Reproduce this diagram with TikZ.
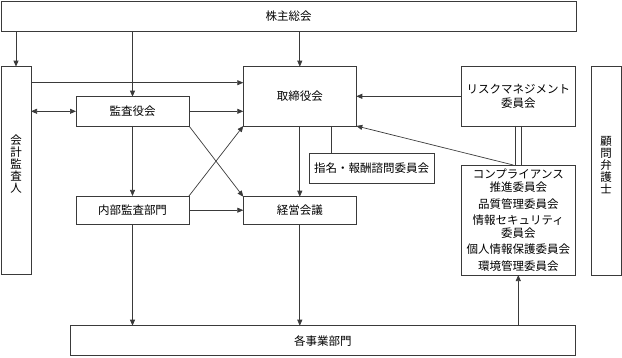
\documentclass[tikz,border=0pt]{standalone}
\usepackage{fontspec}
\setmainfont{Noto Sans CJK JP}
\usetikzlibrary{arrows.meta}
\definecolor{lc}{HTML}{3A3A3A}
\begin{document}
\begin{tikzpicture}[x=1pt,y=-1pt,
  box/.style={draw=lc, line width=0.8pt, inner sep=0pt, outer sep=0pt, align=center,
    font=\fontsize{11.5}{13.3}\selectfont},
  vtext/.style={align=center, inner sep=0pt, font=\fontsize{11.5}{12}\selectfont, yshift=6pt},
  conn/.style={draw=lc, line width=0.7pt},
  arr/.style={conn, -{Triangle[length=6pt,width=5pt]}},
  darr/.style={conn, {Triangle[length=6pt,width=5pt]}-{Triangle[length=6pt,width=5pt]}}]
\useasboundingbox (0,0) rectangle (622,357);
% boxes
\node[box, minimum width=575pt, minimum height=30pt] (kabu) at (288.5,16) {株主総会};
\node[box, minimum width=30pt, minimum height=207.3pt,
  label={[vtext]center:{会\\計\\監\\査\\人}}] (kaikei) at (16,170.3) {};
\node[box, minimum width=113pt, minimum height=29.3pt] (kansa) at (132.5,111.3) {監査役会};
\node[box, minimum width=113pt, minimum height=59.3pt] (tori) at (299.8,96.3) {取締役会};
\node[box, minimum width=113.3pt, minimum height=59.3pt] (risk) at (518.3,96.3) {リスクマネジメント\\委員会};
\node[box, minimum width=30pt, minimum height=208.3pt,
  label={[vtext]center:{顧\\問\\弁\\護\\士}}] (komon) at (606,170.8) {};
\node[box, minimum width=113pt, minimum height=28.5pt] (naibu) at (132.5,210.2) {内部監査部門};
\node[box, minimum width=113pt, minimum height=27.8pt] (keiei) at (299.8,210.6) {経営会議};
\node[box, minimum width=125pt, minimum height=30pt] (shimei) at (371.5,168.3) {指名・報酬諮問委員会};
\node[box, minimum width=113.3pt, minimum height=110pt] (comp) at (518.3,220)
  {コンプライアンス\\推進委員会\\[3pt]品質管理委員会\\[3pt]情報セキュリティ\\委員会\\[3pt]個人情報保護委員会\\[3pt]環境管理委員会};
\node[box, minimum width=504.3pt, minimum height=30pt] (jigyo) at (322.8,340.7) {各事業部門};
% helper coordinates
\coordinate (y1) at (0,82.7);
\coordinate (s1) at (331.7,0);
\coordinate (d1) at (515.7,0);
\coordinate (d2) at (521.7,0);
\coordinate (c1) at (513.3,0);
% connectors
\draw[arr] (kaikei.north |- kabu.south) -- (kaikei.north);
\draw[arr] (kansa.north |- kabu.south) -- (kansa.north);
\draw[arr] (tori.north |- kabu.south) -- (tori.north);
\draw[arr] (kaikei.east |- y1) -- (tori.west |- y1);
\draw[darr] (kaikei.east |- kansa.west) -- (kansa.west);
\draw[arr] (kansa.east) -- (tori.west |- kansa.east);
\draw[arr] (kansa.south) -- (naibu.north);
\draw[arr] (kansa.south east) -- (keiei.north west);
\draw[arr] (naibu.north east) -- (tori.south west);
\draw[arr] (naibu.east) -- (keiei.west |- naibu.east);
\draw[arr] (naibu.south) -- (jigyo.north -| naibu.south);
\draw[arr] (tori.south) -- (keiei.north);
\draw[arr] (keiei.south) -- (jigyo.north -| keiei.south);
\draw[conn] (tori.south -| s1) -- (shimei.north -| s1);
\draw[arr] (risk.west) -- (tori.east |- risk.west);
\draw[conn] (risk.south -| d1) -- (comp.north -| d1);
\draw[conn] (risk.south -| d2) -- (comp.north -| d2);
\draw[arr] (comp.north -| c1) -- (tori.south east);
\draw[arr] (jigyo.north -| comp.south) -- (comp.south);
\end{tikzpicture}
\end{document}
